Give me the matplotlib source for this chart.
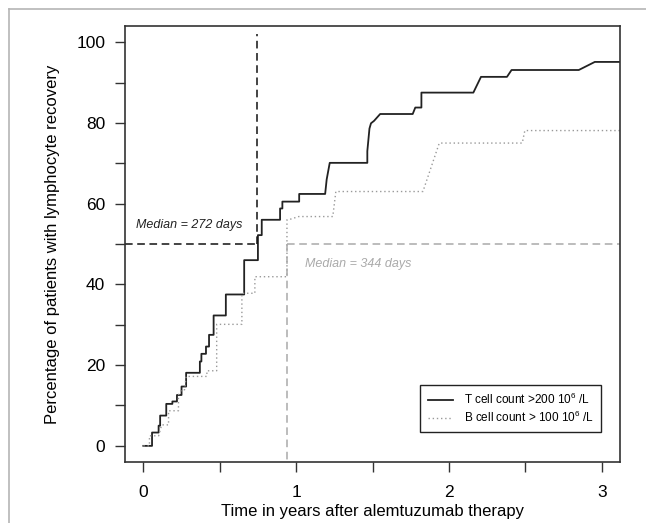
import matplotlib
matplotlib.use('Agg')
import matplotlib.pyplot as plt
from matplotlib.lines import Line2D

plt.rcParams['font.family'] = ['Liberation Sans', 'DejaVu Sans']
plt.rcParams['mathtext.default'] = 'regular'

# T cell recovery curve (years, % recovered)
t_years = [0.00, 0.057, 0.057, 0.10, 0.10, 0.11, 0.11, 0.15, 0.15, 0.19, 0.19, 0.22, 0.22,
           0.25, 0.25, 0.28, 0.28, 0.37, 0.37, 0.38, 0.38, 0.41, 0.41, 0.43, 0.43, 0.46, 0.46,
           0.54, 0.54, 0.66, 0.66, 0.75, 0.75, 0.775, 0.775, 0.895, 0.895, 0.91, 0.91, 1.02,
           1.02, 1.19, 1.20, 1.22, 1.466, 1.466, 1.48, 1.49, 1.51, 1.55, 1.763, 1.78, 1.82,
           1.82, 2.16, 2.21, 2.38, 2.41, 2.85, 2.955, 3.15]
t_pct = [0.0, 0.0, 3.3, 3.3, 5.0, 5.0, 7.5, 7.5, 10.4, 10.4, 11.0, 11.0, 12.6,
         12.6, 14.7, 14.7, 18.1, 18.1, 20.9, 20.9, 22.8, 22.8, 24.6, 24.6, 27.5, 27.5, 32.3,
         32.3, 37.5, 37.5, 46.0, 46.0, 52.2, 52.2, 56.0, 56.0, 58.8, 58.8, 60.5, 60.5,
         62.4, 62.4, 66.0, 70.1, 70.1, 73.0, 78.6, 79.9, 80.5, 82.2, 82.2, 83.8, 83.8,
         87.5, 87.5, 91.4, 91.4, 93.1, 93.1, 95.1, 95.1]

# B cell recovery curve
b_years = [0.00, 0.04, 0.04, 0.10, 0.12, 0.165, 0.165, 0.23, 0.23, 0.25, 0.27, 0.28, 0.416,
           0.416, 0.48, 0.48, 0.645, 0.645, 0.73, 0.73, 0.94, 0.94, 0.95, 1.017, 1.24, 1.26,
           1.83, 1.937, 2.48, 2.497, 3.15]
b_pct = [0.0, 0.0, 2.5, 2.5, 5.2, 5.2, 8.7, 8.7, 12.6, 13.9, 13.9, 17.2, 17.2,
         18.6, 18.6, 30.1, 30.1, 37.8, 37.8, 41.9, 41.9, 56.0, 56.0, 56.8, 56.8, 63.0,
         63.0, 75.0, 75.0, 78.1, 78.1]

median_t = 272
median_b = 344

fig = plt.figure(figsize=(6.46, 5.23), dpi=100)
ax = fig.add_axes([0.1935, 0.1166, 0.7663, 0.8337])

ax.plot(t_years, t_pct, color='#222222', lw=1.3, label=r'T cell count >200 10$^6$ /L')
ax.plot(b_years, b_pct, color='#999999', lw=1.0, ls=(0, (1, 2)),
        label=r'B cell count > 100 10$^6$ /L')

# median markers
mt = median_t / 365
mb = median_b / 365
ax.plot([-0.12, mt], [50, 50], color='#111111', lw=1.1, ls=(0, (5, 3)))
ax.plot([mt, mt], [50, 102], color='#111111', lw=1.1, ls=(0, (5, 3)))
ax.plot([mb, 3.12], [50, 50], color='#aaaaaa', lw=1.1, ls=(0, (5, 3)))
ax.plot([mb, mb], [50, -4], color='#aaaaaa', lw=1.1, ls=(0, (5, 3)))
ax.text(-0.046, 54.7, 'Median = 272 days', style='italic', fontsize=9,
        color='#222222', va='center')
ax.text(1.059, 45, 'Median = 344 days', style='italic', fontsize=9,
        color='#aaaaaa', va='center')

ax.set_xlim(-0.12, 3.12)
ax.set_ylim(-4, 104)
ax.set_xticks([0, 1, 2, 3])
ax.set_xticks([0.5, 1.5, 2.5], minor=True)
ax.set_yticks([0, 20, 40, 60, 80, 100])
ax.set_yticks([10, 30, 50, 70, 90], minor=True)
ax.tick_params(which='both', direction='out', length=7.2, width=1, color='#333333',
               labelsize=12.5)
ax.tick_params(axis='x', pad=9)
ax.tick_params(axis='y', pad=7)
for s in ax.spines.values():
    s.set_color('#333333')
    s.set_linewidth(1.2)

ax.set_xlabel('Time in years after alemtuzumab therapy', fontsize=12, labelpad=3)
ax.set_ylabel('Percentage of patients with lymphocyte recovery', fontsize=12, labelpad=12)

leg = ax.legend(loc='lower right', bbox_to_anchor=(0.9616, 0.0688), fontsize=8.5,
                frameon=True, fancybox=False, edgecolor='#222222', framealpha=1,
                handlelength=2.2, borderpad=0.6, labelspacing=0.2, handletextpad=0.9,
                borderaxespad=0)
leg.get_frame().set_linewidth(1.0)

# outer light frame (top and left)
fig.add_artist(Line2D([9 / 646, 1], [1 - 9 / 523, 1 - 9 / 523], color='#b5b5b5', lw=1.2))
fig.add_artist(Line2D([9 / 646, 9 / 646], [0, 1 - 9 / 523], color='#b5b5b5', lw=1.2))

fig.savefig('out.png', dpi=100)
